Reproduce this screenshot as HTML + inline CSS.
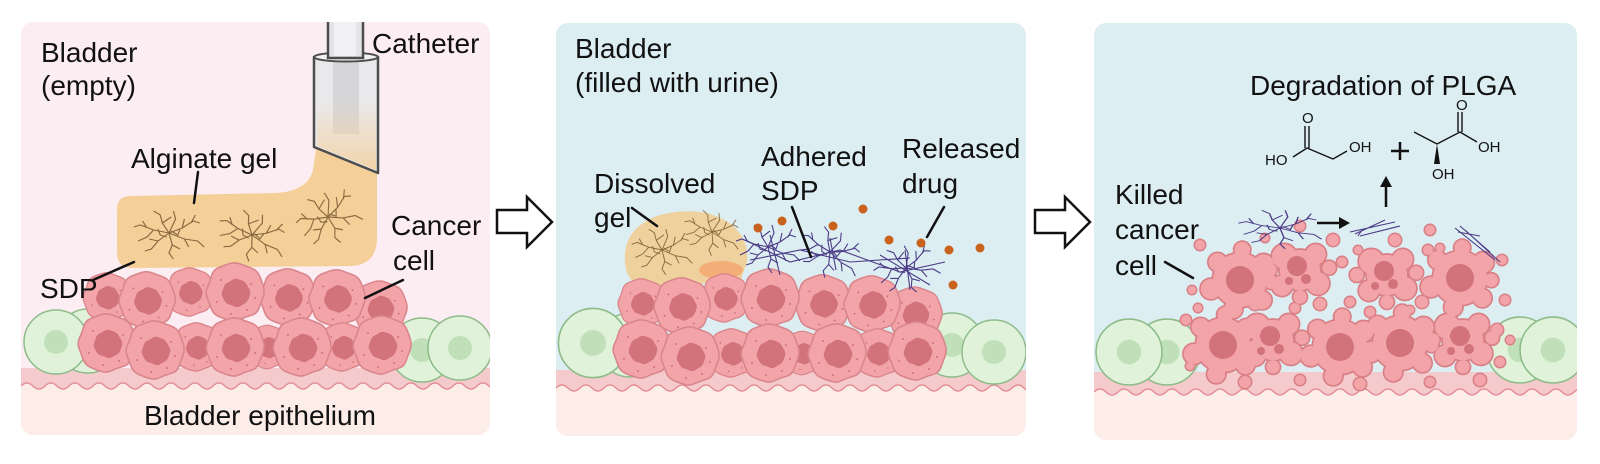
<!DOCTYPE html>
<html><head><meta charset="utf-8"><style>
html,body{margin:0;padding:0;background:#fff;}
svg{display:block;}
text{font-family:"Liberation Sans",Arial,sans-serif;font-size:28px;fill:#111;}
.ch{font-size:15px;}
</style></head><body>
<svg width="1600" height="464" viewBox="0 0 1600 464" xmlns="http://www.w3.org/2000/svg" xmlns:xlink="http://www.w3.org/1999/xlink">
<defs>
 <clipPath id="cp1"><rect x="21" y="22" width="469" height="413" rx="12"/></clipPath>
 <clipPath id="cp2"><rect x="556" y="23" width="470" height="413" rx="12"/></clipPath>
 <clipPath id="cp3"><rect x="1094" y="23" width="483" height="417" rx="12"/></clipPath>
 <linearGradient id="gg" x1="0" y1="0" x2="0" y2="1">
  <stop offset="0" stop-color="#f5cf98" stop-opacity="0"/>
  <stop offset="1" stop-color="#f5cf98" stop-opacity="0.8"/>
 </linearGradient>
 <path id="wv" d="M0 0 Q6 -6 12 0 T24 0 T36 0 T48 0 T60 0 T72 0 T84 0 T96 0 T108 0 T120 0 T132 0 T144 0 T156 0 T168 0 T180 0 T192 0 T204 0 T216 0 T228 0 T240 0 T252 0 T264 0 T276 0 T288 0 T300 0 T312 0 T324 0 T336 0 T348 0 T360 0 T372 0 T384 0 T396 0 T408 0 T420 0 T432 0 T444 0 T456 0 T468 0 T480 0 T492 0"/>
 <path id="wvf" d="M0 0 Q6 -6 12 0 T24 0 T36 0 T48 0 T60 0 T72 0 T84 0 T96 0 T108 0 T120 0 T132 0 T144 0 T156 0 T168 0 T180 0 T192 0 T204 0 T216 0 T228 0 T240 0 T252 0 T264 0 T276 0 T288 0 T300 0 T312 0 T324 0 T336 0 T348 0 T360 0 T372 0 T384 0 T396 0 T408 0 T420 0 T432 0 T444 0 T456 0 T468 0 T480 0 T492 0 L492 70 L0 70 Z"/>
 <path id="blob" d="M27.95 5.35 Q25.9 10.7 23.9 16.3 Q21.9 21.9 16.1 23.4 Q10.3 24.9 5.15 27.45 Q0 30 -5.55 28.4 Q-11.1 26.8 -16.5 24.35 Q-21.9 21.9 -23.9 16.3 Q-25.9 10.7 -27.95 5.35 Q-30 0 -27.45 -5.15 Q-24.9 -10.3 -23.4 -16.1 Q-21.9 -21.9 -16.5 -24.35 Q-11.1 -26.8 -5.55 -28.4 Q0 -30 5.35 -27.95 Q10.7 -25.9 16.3 -23.9 Q21.9 -21.9 24.35 -16.5 Q26.8 -11.1 28.4 -5.55 Q30 0 27.95 5.35 Z"/>
 <g id="cc">
  <use href="#blob" fill="#f2a4a8" stroke="#d9868c" stroke-width="1.6"/>
  <use href="#blob" transform="translate(1 1) scale(0.48) rotate(40)" fill="#d2727b"/>
  <circle cx="-14" cy="-12" r="0.9" fill="#c8646c"/><circle cx="16" cy="-8" r="0.9" fill="#c8646c"/>
  <circle cx="-18" cy="10" r="0.9" fill="#c8646c"/><circle cx="12" cy="18" r="0.9" fill="#c8646c"/>
  <circle cx="-4" cy="22" r="0.9" fill="#c8646c"/><circle cx="20" cy="6" r="0.9" fill="#c8646c"/>
 </g>
 <g id="gc"><circle r="32" fill="#e0f3da" stroke="#8dbb89" stroke-width="1.5"/><circle r="12" fill="#bfe0b8"/></g>
 <g id="star"><path d="M0 0 L-14 -3 L-26 -8 L-32 -6 M-14 -3 L-20 4 L-28 8 M0 0 L-6 -10 L-8 -18 L-14 -22 M-6 -10 L2 -16 M0 0 L3 12 L0 20 L4 26 M3 12 L10 16 M0 0 L12 -5 L22 -12 L28 -10 M12 -5 L14 -14 M0 0 L14 6 L26 8 L32 14 M14 6 L18 14 M0 0 L-10 8 L-16 16 L-22 18 M-10 8 L-18 6 M0 0 L6 -14 L4 -22 M-20 -5 L-24 -12 M20 -10 L24 -18 M-2 4 L-8 2 L-10 -4 M2 -2 L8 2 L10 -4"/></g>
 <g id="cluster">
  <use href="#cc" transform="translate(107 297) scale(0.83)"/>
  <use href="#cc" transform="translate(190 292) scale(0.83)"/>
  <use href="#cc" transform="translate(147 300) scale(0.97)"/>
  <use href="#cc" transform="translate(288 297) scale(0.97)"/>
  <use href="#cc" transform="translate(235 292) scale(1.0)"/>
  <use href="#cc" transform="translate(380 308) scale(0.93)"/>
  <use href="#cc" transform="translate(337 298) scale(0.97)"/>
  <use href="#cc" transform="translate(197 347) scale(0.83)"/>
  <use href="#cc" transform="translate(268 347) scale(0.75)"/>
  <use href="#cc" transform="translate(343 347) scale(0.83)"/>
  <use href="#cc" transform="translate(107 343) scale(1.0)"/>
  <use href="#cc" transform="translate(155 350) scale(1.0)"/>
  <use href="#cc" transform="translate(235 347) scale(1.0)"/>
  <use href="#cc" transform="translate(302 347) scale(1.0)"/>
  <use href="#cc" transform="translate(382 345) scale(1.0)"/>
 </g>
 <g id="k1"><circle r="24"/><circle cx="21" cy="-14" r="9"/><circle cx="-20" cy="-16" r="8"/><circle cx="-26" cy="8" r="9"/><circle cx="20" cy="18" r="8"/><circle cx="2" cy="-27" r="7"/><circle cx="-6" cy="26" r="8"/><circle cx="28" cy="2" r="6"/></g>
 <g id="k2"><circle r="18"/><circle cx="-14" cy="-12" r="11"/><circle cx="14" cy="-14" r="9"/><circle cx="16" cy="12" r="10"/><circle cx="-16" cy="14" r="9"/><circle cx="0" cy="24" r="6"/><circle cx="26" cy="-2" r="6"/><circle cx="-27" cy="0" r="6"/></g>
 <g id="p3all">
  <use href="#k1" transform="translate(1240 280) scale(1.12)"/>
  <use href="#k2" transform="translate(1300 270) scale(1.12)"/>
  <use href="#k2" transform="translate(1387 275) scale(1.12)"/>
  <use href="#k1" transform="translate(1460 278) scale(1.12)"/>
  <use href="#k1" transform="translate(1223 345) scale(1.12)"/>
  <use href="#k2" transform="translate(1273 340) scale(1.12)"/>
  <use href="#k1" transform="translate(1340 347) scale(1.12)"/>
  <use href="#k1" transform="translate(1400 343) scale(1.12)"/>
  <use href="#k2" transform="translate(1463 340) scale(1.12)"/>
  <circle cx="1200" cy="245" r="5"/><circle cx="1215" cy="262" r="4"/><circle cx="1192" cy="290" r="4"/><circle cx="1186" cy="320" r="5"/><circle cx="1198" cy="308" r="4"/><circle cx="1265" cy="238" r="4"/><circle cx="1333" cy="240" r="6"/><circle cx="1342" cy="262" r="5"/><circle cx="1358" cy="250" r="4"/><circle cx="1320" cy="304" r="6"/><circle cx="1350" cy="302" r="5"/><circle cx="1428" cy="250" r="5"/><circle cx="1422" cy="302" r="6"/><circle cx="1440" cy="248" r="4"/><circle cx="1502" cy="260" r="5"/><circle cx="1505" cy="300" r="5"/><circle cx="1497" cy="330" r="6"/><circle cx="1500" cy="362" r="5"/><circle cx="1255" cy="304" r="6"/><circle cx="1295" cy="308" r="5"/><circle cx="1370" cy="312" r="5"/><circle cx="1410" cy="310" r="4"/><circle cx="1245" cy="382" r="6"/><circle cx="1300" cy="380" r="5"/><circle cx="1360" cy="384" r="6"/><circle cx="1430" cy="382" r="5"/><circle cx="1480" cy="380" r="6"/><circle cx="1190" cy="366" r="4"/><circle cx="1510" cy="340" r="4"/><circle cx="1300" cy="226" r="5"/><circle cx="1430" cy="230" r="5"/><circle cx="1395" cy="240" r="6"/>
 </g>
</defs>

<!-- ================= PANEL 1 ================= -->
<g clip-path="url(#cp1)">
 <rect x="21" y="22" width="469" height="413" fill="#fcedf3"/>
 <rect x="21" y="368" width="469" height="24" fill="#f5cacc"/>
 <use href="#wvf" transform="translate(21 386)" fill="#fcede9"/>
 <use href="#wv" transform="translate(21 386)" fill="none" stroke="#e38e96" stroke-width="1.5"/>
 <use href="#gc" transform="translate(88 341)"/>
 <use href="#gc" transform="translate(56 342)"/>
 <use href="#gc" transform="translate(422 350)"/>
 <use href="#gc" transform="translate(460 348)"/>
 <path d="M130 196 L276 193 Q308 191 313 170 L316 149 L377 174 L377 238 Q377 264 352 266 L132 268 Q117 268 117 252 L117 210 Q117 196 130 196 Z" fill="#f5cf98"/>
 <g fill="none" stroke="#8a6a40" stroke-width="1.1">
  <use href="#star" transform="translate(169 233) scale(1.1 1)"/>
  <use href="#star" transform="translate(252 235) scale(1.1 1) rotate(15)"/>
  <use href="#star" transform="translate(328 217) scale(1 1.1) rotate(-20)"/>
 </g>
 <path d="M314 57 L314 147 L378 173 L378 57 Z" fill="#e9e9ec" stroke="#4d4d4d" stroke-width="2.5" stroke-linejoin="round"/>
 <rect x="333" y="62" width="26" height="72" fill="#d6d6d9"/>
 <path d="M317 100 L376 100 L376 170 L317 146 Z" fill="url(#gg)"/>
 <ellipse cx="346" cy="57" rx="32" ry="4.5" fill="#f2f2f4" stroke="#4d4d4d" stroke-width="2"/>
 <rect x="328" y="14" width="35" height="44" fill="#e4e4e7" stroke="#4d4d4d" stroke-width="2.5"/>
 <rect x="334" y="22" width="22" height="34" fill="#f1f1f3"/>
 <use href="#cluster"/>
 <text x="41" y="62">Bladder</text>
 <text x="41" y="95">(empty)</text>
 <text x="372" y="53">Catheter</text>
 <text x="131" y="168">Alginate gel</text>
 <text x="40" y="298">SDP</text>
 <text x="391" y="235">Cancer</text>
 <text x="393" y="270">cell</text>
 <text x="144" y="425">Bladder epithelium</text>
 <g stroke="#111" stroke-width="2.5" stroke-linecap="round">
  <line x1="198" y1="172" x2="194" y2="203"/>
  <line x1="93" y1="280" x2="134" y2="262"/>
  <line x1="365" y1="298" x2="403" y2="280"/>
 </g>
</g>

<path d="M497 210 L527 210 L527 197 L552 222 L527 247 L527 233 L497 233 Z" fill="#fff" stroke="#111" stroke-width="2.5" stroke-linejoin="miter"/>

<!-- ================= PANEL 2 ================= -->
<g clip-path="url(#cp2)">
 <rect x="556" y="23" width="470" height="413" fill="#ddeef3"/>
 <rect x="556" y="370" width="470" height="24" fill="#f5cacc"/>
 <use href="#wvf" transform="translate(556 388)" fill="#fcede9"/>
 <use href="#wv" transform="translate(556 388)" fill="none" stroke="#e38e96" stroke-width="1.5"/>
 <use href="#gc" transform="translate(630 345)"/>
 <use href="#gc" transform="translate(593 343) scale(1.08)"/>
 <use href="#gc" transform="translate(952 345)"/>
 <use href="#gc" transform="translate(994 352)"/>
 <path d="M625 262 Q622 228 660 215 Q700 205 728 222 Q750 238 747 262 L740 282 L640 286 Q626 280 625 262 Z" fill="#efd19d"/>
 <g fill="none" stroke="#8a6a40" stroke-width="1">
  <use href="#star" transform="translate(662 250) scale(0.95)"/>
  <use href="#star" transform="translate(712 232) scale(0.9) rotate(10)"/>
 </g>
 <ellipse cx="721" cy="270" rx="22" ry="9" fill="#f3ae78"/>
 <use href="#cluster" transform="translate(535 6)"/>
 <g fill="none" stroke="#4b3b86" stroke-width="1.1">
  <use href="#star" transform="translate(768 247)"/>
  <use href="#star" transform="translate(830 252) rotate(20)"/>
  <use href="#star" transform="translate(906 268) rotate(-15)"/>
  <path d="M745 240 L790 262 L840 250 L900 272 L945 262 M750 260 L800 250 L850 262 L910 258 M770 235 L780 275 M830 238 L836 270 M905 250 L910 290 M880 255 L930 285"/>
 </g>
 <g fill="#c9621c">
  <circle cx="758" cy="228" r="4.5"/><circle cx="782" cy="221" r="4.5"/><circle cx="833" cy="226" r="4.5"/>
  <circle cx="863" cy="209" r="4.5"/><circle cx="889" cy="240" r="4.5"/><circle cx="921" cy="243" r="4.5"/>
  <circle cx="949" cy="250" r="4.5"/><circle cx="980" cy="248" r="4.5"/><circle cx="953" cy="285" r="4.5"/>
 </g>
 <text x="575" y="58">Bladder</text>
 <text x="575" y="92">(filled with urine)</text>
 <text x="594" y="193">Dissolved</text>
 <text x="594" y="227">gel</text>
 <text x="761" y="166">Adhered</text>
 <text x="761" y="200">SDP</text>
 <text x="902" y="158">Released</text>
 <text x="902" y="193">drug</text>
 <g stroke="#111" stroke-width="2.5" stroke-linecap="round">
  <line x1="632" y1="208" x2="657" y2="226"/>
  <line x1="792" y1="207" x2="811" y2="257"/>
  <line x1="944" y1="207" x2="927" y2="237"/>
 </g>
</g>

<path d="M1035 210 L1065 210 L1065 197 L1090 222 L1065 247 L1065 233 L1035 233 Z" fill="#fff" stroke="#111" stroke-width="2.5"/>

<!-- ================= PANEL 3 ================= -->
<g clip-path="url(#cp3)">
 <rect x="1094" y="23" width="483" height="417" fill="#ddeef3"/>
 <rect x="1094" y="372" width="483" height="26" fill="#f5cacc"/>
 <use href="#wvf" transform="translate(1094 392)" fill="#fcede9"/>
 <use href="#wv" transform="translate(1094 392)" fill="none" stroke="#e38e96" stroke-width="1.5"/>
 <use href="#gc" transform="translate(1167 352) scale(1.03)"/>
 <use href="#gc" transform="translate(1129 352) scale(1.03)"/>
 <use href="#gc" transform="translate(1520 350) scale(1.03)"/>
 <use href="#gc" transform="translate(1553 350) scale(1.03)"/>
 <use href="#p3all" fill="#d98086" stroke="#d98086" stroke-width="3"/>
 <use href="#p3all" fill="#f2a4a8"/>
 <g fill="#d2727b">
  <circle cx="1240" cy="280" r="14"/><circle cx="1460" cy="278" r="14"/><circle cx="1223" cy="345" r="14"/><circle cx="1340" cy="347" r="14"/><circle cx="1400" cy="343" r="14"/>
  <circle cx="1297" cy="266" r="10"/><circle cx="1306" cy="279" r="5"/><circle cx="1289" cy="281" r="4"/>
  <circle cx="1384" cy="271" r="10"/><circle cx="1393" cy="284" r="5"/><circle cx="1375" cy="286" r="4"/>
  <circle cx="1270" cy="336" r="10"/><circle cx="1279" cy="349" r="5"/><circle cx="1261" cy="351" r="4"/>
  <circle cx="1460" cy="336" r="10"/><circle cx="1469" cy="349" r="5"/><circle cx="1451" cy="351" r="4"/>
 </g>
 <g fill="none" stroke="#4b3b86" stroke-width="1.1">
  <use href="#star" transform="translate(1280 228) scale(1.3 0.8)"/>
  <path d="M1350 232 L1395 222 M1355 234 L1385 220 M1360 236 L1400 226 M1362 230 L1358 236"/>
  <path d="M1455 228 L1495 260 M1460 226 L1490 252 M1458 232 L1480 236 M1465 230 L1500 262"/>
 </g>
 <text x="1250" y="95">Degradation of PLGA</text>
 <text x="1115" y="204">Killed</text>
 <text x="1115" y="239">cancer</text>
 <text x="1115" y="275">cell</text>
 <line x1="1165" y1="262" x2="1193" y2="278" stroke="#111" stroke-width="2.5" stroke-linecap="round"/>
 <g stroke="#111" stroke-width="1.4" fill="none">
  <path d="M1293 157 L1307 148 L1333 159 L1347 151"/>
  <line x1="1305" y1="148" x2="1305" y2="126"/><line x1="1309" y1="148" x2="1309" y2="126"/>
  <path d="M1414 132 L1437 144 L1460 132 L1477 142"/>
  <line x1="1458" y1="132" x2="1458" y2="112"/><line x1="1462" y1="132" x2="1462" y2="112"/>
 </g>
 <polygon points="1437,144 1434,164 1440,164" fill="#111"/>
 <text class="ch" x="1265" y="165">HO</text>
 <text class="ch" x="1302" y="123">O</text>
 <text class="ch" x="1349" y="152">OH</text>
 <text class="ch" x="1456" y="110">O</text>
 <text class="ch" x="1478" y="152">OH</text>
 <text class="ch" x="1432" y="179">OH</text>
 <g stroke="#111" stroke-width="2.5">
  <line x1="1391" y1="151" x2="1409" y2="151"/><line x1="1400" y1="142" x2="1400" y2="160"/>
  <line x1="1386" y1="207" x2="1386" y2="184"/>
  <line x1="1317" y1="223" x2="1340" y2="223"/>
 </g>
 <polygon points="1386,176 1380,187 1392,187" fill="#111"/>
 <polygon points="1350,223 1339,217 1339,229" fill="#111"/>
</g>
</svg>
</body></html>
